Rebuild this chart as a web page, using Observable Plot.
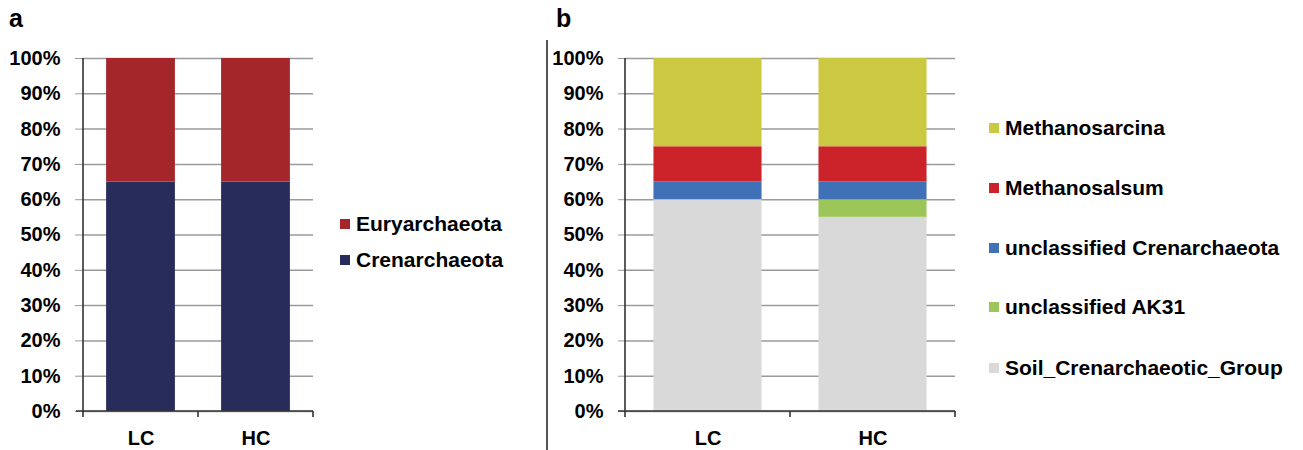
<!DOCTYPE html>
<html>
<head>
<meta charset="utf-8">
<script src="https://cdn.jsdelivr.net/npm/d3@7"></script>
<script src="https://cdn.jsdelivr.net/npm/@observablehq/plot@0.6"></script>
<style>
  html, body { margin: 0; padding: 0; background: #fff; }
  #wrap { position: relative; width: 1303px; height: 450px; font-family: "Liberation Sans", Arial, sans-serif; overflow: hidden; }
  .panel { position: absolute; top: 0; }
  .plabel { position: absolute; font-weight: bold; font-size: 25px; line-height: 1; }
  .sep { position: absolute; left: 546px; top: 40px; width: 1.5px; height: 410px; background: #555; }
  .leg { position: absolute; font-weight: bold; font-size: 21px; white-space: nowrap; display: flex; align-items: center; height: 24px; }
  .leg i { display: inline-block; width: 10px; height: 10px; margin-right: 6px; }
</style>
</head>
<body>
<div id="wrap">
  <div class="plabel" style="left:9px; top:6px;">a</div>
  <div class="plabel" style="left:556px; top:6px;">b</div>
  <div class="sep"></div>
  <div id="pa" class="panel" style="left:0px;"></div>
  <div id="pb" class="panel" style="left:548px;"></div>
  <div id="lega"></div>
  <div id="legb"></div>
</div>
<script>
// ---- data ----
const samples = ["LC", "HC"];
const yTicks = [0, 10, 20, 30, 40, 50, 60, 70, 80, 90, 100];

// panel a: phylum level (bottom -> top)
const phyla = ["Crenarchaeota", "Euryarchaeota"];
const phylaLC = [65, 35];
const phylaHC = [65, 35];
const phylaColors = ["#272c5a", "#a4262b"];

// panel b: genus level (bottom -> top)
const genera = ["Soil_Crenarchaeotic_Group", "unclassified AK31", "unclassified Crenarchaeota", "Methanosalsum", "Methanosarcina"];
const generaLC = [60, 0, 5, 10, 25];
const generaHC = [55, 5, 5, 10, 25];
const generaColors = ["#d9d9d9", "#9dc65a", "#4070b6", "#cc2229", "#cbc942"];

function rowsOf(names, lc, hc) {
  const rows = [];
  names.forEach((n, i) => rows.push({sample: "LC", taxon: n, value: lc[i]}));
  names.forEach((n, i) => rows.push({sample: "HC", taxon: n, value: hc[i]}));
  return rows;
}

function panel(el, rows, names, colors, o) {
  const plotW = o.width - o.ml - o.mr;
  const bw = plotW / samples.length;
  const inset = bw * o.gapFrac / 2;
  const chart = Plot.plot({
    width: o.width, height: 450,
    marginLeft: o.ml, marginRight: o.mr, marginTop: 58, marginBottom: 39,
    style: {fontFamily: '"Liberation Sans", Arial, sans-serif', fontSize: "20px", fontWeight: "bold", color: "#000", background: "transparent"},
    x: {domain: samples, padding: 0, label: null},
    y: {domain: [0, 100], label: null},
    color: {domain: names, range: colors},
    marks: [
      Plot.gridY(yTicks, {stroke: "#9a9a9a", strokeOpacity: 1, strokeWidth: 1.5}),
      Plot.barY(rows, {x: "sample", y: "value", fill: "taxon", insetLeft: inset, insetRight: inset}),
      Plot.axisY(yTicks, {tickFormat: d => d + "%", tickSize: 7, tickPadding: 15, stroke: "#9a9a9a", fill: "#000", fontSize: 20, fontWeight: "bold", label: null}),
      Plot.axisX({tickSize: 0, tickPadding: 19, fill: "#000", fontSize: 20, fontWeight: "bold", label: null})
    ]
  });
  // axis lines and category boundary ticks from the library scales
  const sx = chart.scale("x"), sy = chart.scale("y");
  const svg = d3.select(chart);
  const y0 = sy.apply(0), y100 = sy.apply(100);
  const bounds = samples.map(s => sx.apply(s)).concat([sx.apply(samples[samples.length - 1]) + sx.bandwidth]);
  const g = svg.append("g").attr("stroke", "#333").attr("stroke-width", 1.6);
  g.append("line").attr("x1", bounds[0] - 7).attr("x2", bounds[bounds.length - 1]).attr("y1", y0).attr("y2", y0);
  g.append("line").attr("x1", bounds[0]).attr("x2", bounds[0]).attr("y1", y100).attr("y2", y0 + 6);
  bounds.slice(1).forEach(b => g.append("line").attr("x1", b).attr("x2", b).attr("y1", y0).attr("y2", y0 + 6));
  document.getElementById(el).appendChild(chart);
}

panel("pa", rowsOf(phyla, phylaLC, phylaHC), phyla, phylaColors, {width: 330, ml: 82, mr: 17, gapFrac: 0.4});
panel("pb", rowsOf(genera, generaLC, generaHC), genera, generaColors, {width: 420, ml: 77, mr: 13, gapFrac: 0.345});

// legends (top entry = top of the stack)
function legend(el, names, colors, left, tops) {
  const box = document.getElementById(el);
  names.slice().reverse().forEach((n, i) => {
    const c = colors[names.length - 1 - i];
    const d = document.createElement("div");
    d.className = "leg";
    d.style.left = left + "px";
    d.style.top = (tops[i] - 12) + "px";
    d.innerHTML = `<i style="background:${c}"></i>${n}`;
    box.appendChild(d);
  });
}
legend("lega", phyla, phylaColors, 340, [224, 260]);
legend("legb", genera, generaColors, 989, [128, 188, 248, 307, 368]);
</script>
</body>
</html>
